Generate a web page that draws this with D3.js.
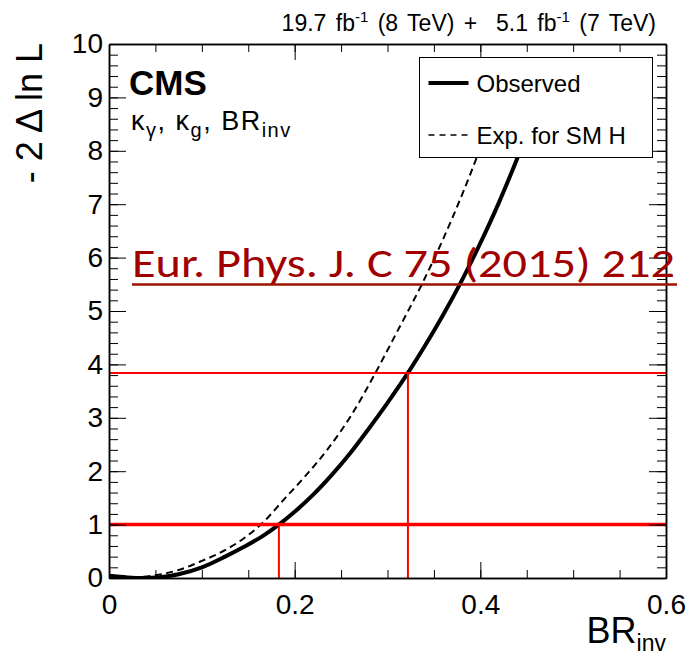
<!DOCTYPE html>
<html>
<head>
<meta charset="utf-8">
<script src="https://cdn.jsdelivr.net/npm/d3@7"></script>
<style>
  body { margin: 0; background: #fff; }
  svg { display: block; font-family: "Liberation Sans", Arial, Helvetica, sans-serif; }
</style>
</head>
<body>
<svg width="689" height="656"></svg>
<script>
// observed scan
const brObs  = [0, 0.02, 0.037, 0.055, 0.075, 0.1, 0.125, 0.145, 0.165, 0.183, 0.2, 0.22, 0.24, 0.26, 0.28, 0.3, 0.322, 0.34, 0.36, 0.38, 0.4, 0.42, 0.44, 0.46];
const nllObs = [0.04, 0.01, 0, 0.015, 0.07, 0.2, 0.4, 0.58, 0.78, 1.0, 1.24, 1.56, 1.93, 2.34, 2.8, 3.28, 3.84, 4.34, 4.93, 5.57, 6.27, 7.03, 7.87, 8.8];

// expected for SM H
const brExp  = [0, 0.025, 0.05, 0.075, 0.1, 0.125, 0.145, 0.163, 0.19, 0.21, 0.235, 0.26, 0.287, 0.31, 0.337, 0.36, 0.382, 0.4, 0.42];
const nllExp = [0, 0.01, 0.05, 0.15, 0.32, 0.52, 0.74, 0.99, 1.5, 1.88, 2.4, 3.02, 3.84, 4.6, 5.5, 6.35, 7.25, 8.05, 9.0];

// 68% / 95% CL thresholds and observed crossings
const clLevels = [1, 3.84];
const clCross  = [0.183, 0.322];

const xMajor = [0, 0.2, 0.4, 0.6];
const yMajor = [0, 1, 2, 3, 4, 5, 6, 7, 8, 9, 10];

const svg = d3.select("svg");
const L = 109, T = 44, W = 557, H = 534;

const x = d3.scaleLinear().domain([0, 0.6]).range([0, W]);
const y = d3.scaleLinear().domain([0, 10]).range([H, 0]);

const g = svg.append("g").attr("transform", `translate(${L},${T})`);

g.append("clipPath").attr("id", "clip")
  .append("rect").attr("width", W).attr("height", H);

// courbes
const line = d3.line()
  .x(d => x(d[0]))
  .y(d => y(d[1]))
  .curve(d3.curveMonotoneX);

g.append("path")
  .datum(d3.zip(brExp, nllExp))
  .attr("clip-path", "url(#clip)")
  .attr("d", line)
  .attr("fill", "none")
  .attr("stroke", "#000")
  .attr("stroke-width", 2)
  .attr("stroke-dasharray", "7,4.5");

g.append("path")
  .datum(d3.zip(brObs, nllObs))
  .attr("clip-path", "url(#clip)")
  .attr("d", line)
  .attr("fill", "none")
  .attr("stroke", "#000")
  .attr("stroke-width", 4);

// lignes rouges
g.selectAll("line.cl")
  .data(clLevels)
  .join("line")
  .attr("class", "cl")
  .attr("x1", 0).attr("x2", W)
  .attr("y1", d => y(d)).attr("y2", d => y(d))
  .attr("stroke", "#ff0000")
  .attr("stroke-width", (d, i) => i === 0 ? 3.5 : 2);

g.selectAll("line.cross")
  .data(clCross)
  .join("line")
  .attr("class", "cross")
  .attr("x1", d => x(d)).attr("x2", d => x(d))
  .attr("y1", (d, i) => y(clLevels[i])).attr("y2", H)
  .attr("stroke", "#ff0000")
  .attr("stroke-width", 2);

// axes
const xMinor = d3.range(0, 0.6001, 0.05);
const yMinor = d3.range(0, 10.001, 0.2);

function styleAxis(sel) {
  sel.selectAll("path.domain").attr("stroke", "#000").attr("stroke-width", 1.5);
  sel.selectAll(".tick line").attr("stroke", "#000").attr("stroke-width", 1);
  sel.selectAll(".tick text")
    .attr("font-family", "'Liberation Sans', Arial, sans-serif")
    .attr("font-size", 28)
    .attr("fill", "#000");
}

g.append("g").attr("transform", `translate(0,${H})`)
  .call(d3.axisBottom(x).tickValues(xMinor).tickSizeInner(-8).tickSizeOuter(0).tickFormat(""))
  .call(styleAxis);
g.append("g").attr("transform", `translate(0,${H})`)
  .call(d3.axisBottom(x).tickValues(xMajor).tickSizeInner(-16).tickSizeOuter(0).tickPadding(9)
    .tickFormat(d => d === 0 ? "0" : d3.format(".1f")(d)))
  .call(styleAxis)
  .call(a => a.selectAll(".tick text").attr("dy", "0.95em"));

g.append("g")
  .call(d3.axisTop(x).tickValues(xMinor).tickSizeInner(-8).tickSizeOuter(0).tickFormat(""))
  .call(styleAxis);
g.append("g")
  .call(d3.axisTop(x).tickValues(xMajor).tickSizeInner(-16).tickSizeOuter(0).tickFormat(""))
  .call(styleAxis);

g.append("g")
  .call(d3.axisLeft(y).tickValues(yMinor).tickSizeInner(-9).tickSizeOuter(0).tickFormat(""))
  .call(styleAxis);
g.append("g")
  .call(d3.axisLeft(y).tickValues(yMajor).tickSizeInner(-17).tickSizeOuter(0).tickPadding(6).tickFormat(d3.format("d")))
  .call(styleAxis);

g.append("g").attr("transform", `translate(${W},0)`)
  .call(d3.axisRight(y).tickValues(yMinor).tickSizeInner(-9).tickSizeOuter(0).tickFormat(""))
  .call(styleAxis);
g.append("g").attr("transform", `translate(${W},0)`)
  .call(d3.axisRight(y).tickValues(yMajor).tickSizeInner(-17).tickSizeOuter(0).tickFormat(""))
  .call(styleAxis);

// légende
const leg = svg.append("g").attr("transform", "translate(419.5,57.5)");
leg.append("rect")
  .attr("width", 233).attr("height", 100)
  .attr("fill", "#fff").attr("stroke", "#000").attr("stroke-width", 1);
leg.append("line")
  .attr("x1", 9).attr("x2", 49).attr("y1", 25.5).attr("y2", 25.5)
  .attr("stroke", "#000").attr("stroke-width", 4);
leg.append("line")
  .attr("x1", 9).attr("x2", 49).attr("y1", 77.5).attr("y2", 77.5)
  .attr("stroke", "#000").attr("stroke-width", 1.5).attr("stroke-dasharray", "6,5");
leg.append("text").attr("x", 57).attr("y", 34).attr("font-size", 24).text("Observed");
leg.append("text").attr("x", 57).attr("y", 86).attr("font-size", 24).text("Exp. for SM H");

// textes
const lumi = svg.append("text")
  .attr("x", 656).attr("y", 31)
  .attr("text-anchor", "end")
  .attr("font-size", 23)
  .attr("word-spacing", 3)
  .style("white-space", "pre");
lumi.append("tspan").text("19.7 fb");
lumi.append("tspan").attr("font-size", 15).attr("dy", -9).text("-1");
lumi.append("tspan").attr("dy", 9).text(" (8 TeV) +  5.1 fb");
lumi.append("tspan").attr("font-size", 15).attr("dy", -9).text("-1");
lumi.append("tspan").attr("dy", 9).text(" (7 TeV)");

svg.append("text")
  .attr("x", 129).attr("y", 95)
  .attr("font-size", 35).attr("font-weight", "bold")
  .text("CMS");

const model = svg.append("text")
  .attr("x", 131).attr("y", 130)
  .attr("font-size", 27)
  .attr("letter-spacing", 1.5);
model.append("tspan").text("κ");
model.append("tspan").attr("font-size", 20).attr("dy", 7).text("γ");
model.append("tspan").attr("dy", -7).text(", κ");
model.append("tspan").attr("font-size", 20).attr("dy", 7).text("g");
model.append("tspan").attr("dy", -7).text(", BR");
model.append("tspan").attr("font-size", 20).attr("dy", 7).text("inv");

svg.append("text")
  .attr("transform", "translate(42,43) rotate(-90)")
  .attr("text-anchor", "end")
  .attr("font-size", 36)
  .text("- 2 Δ ln L");

const xt = svg.append("text")
  .attr("x", 666).attr("y", 643)
  .attr("text-anchor", "end")
  .attr("font-size", 36);
xt.append("tspan").text("BR");
xt.append("tspan").attr("font-size", 23).attr("dy", 8).text("inv");

// référence
svg.append("text")
  .attr("x", 132).attr("y", 277)
  .attr("font-family", "Carlito, Lato, 'Open Sans', sans-serif")
  .attr("font-size", 40)
  .attr("fill", "#a00000")
  .attr("textLength", 543)
  .attr("lengthAdjust", "spacingAndGlyphs")
  .text("Eur. Phys. J. C 75 (2015) 212");
svg.append("line")
  .attr("x1", 132).attr("x2", 677).attr("y1", 284.5).attr("y2", 284.5)
  .attr("stroke", "#a01000").attr("stroke-width", 2.5);
</script>
</body>
</html>
